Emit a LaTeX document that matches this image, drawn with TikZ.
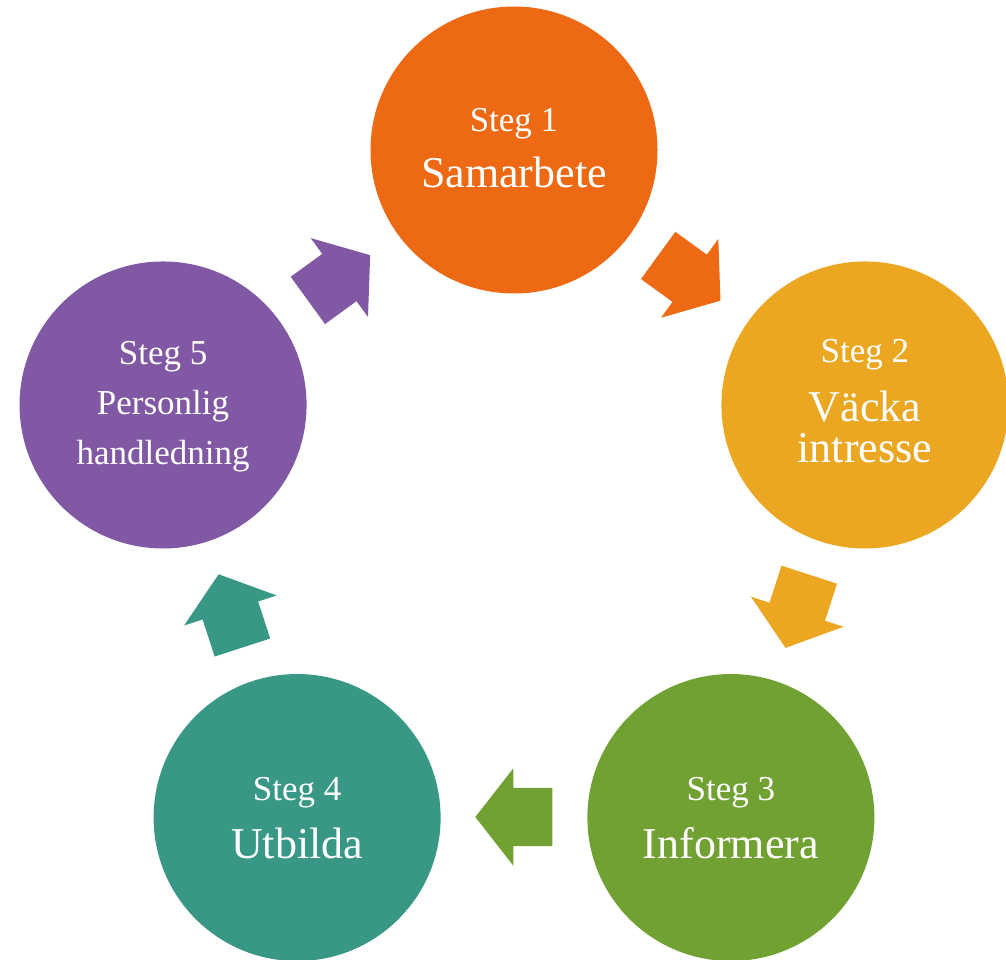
\documentclass[tikz,border=0pt]{standalone}
\usepackage{fontspec}
\setmainfont{Liberation Serif}
\usetikzlibrary{shapes.arrows,calc}
\definecolor{cOrange}{HTML}{EE6914}
\definecolor{cYellow}{HTML}{EBA722}
\definecolor{cGreen}{HTML}{71A132}
\definecolor{cTeal}{HTML}{389885}
\definecolor{cPurple}{HTML}{8058A4}
\begin{document}
\begin{tikzpicture}[x=1pt,y=1pt,
  stepcircle/.style={circle, minimum size=287pt, inner sep=0pt, draw=none, fill=#1},
  cyclearrow/.style={single arrow, draw=none, fill=#1, minimum height=77pt,
    inner xsep=0pt, inner ysep=29pt, text height=0pt, text depth=0pt,
    single arrow head extend=19.5pt, single arrow tip angle=104},
  smalltext/.style={text=white, font=\fontsize{35}{42}\selectfont, anchor=base, inner sep=0pt},
  bigtext/.style={text=white, font=\fontsize{44}{52}\selectfont, anchor=base, inner sep=0pt}]
\useasboundingbox (0,0) rectangle (1006,-960);
\coordinate (ctr) at (514,-519);
% circles
\node[stepcircle=cOrange] (c1) at ($(ctr)+(90:369)$) {};
\node[stepcircle=cYellow] (c2) at ($(ctr)+(18:369)$) {};
\node[stepcircle=cGreen]  (c3) at ($(ctr)+(-54:369)$) {};
\node[stepcircle=cTeal]   (c4) at ($(ctr)+(-126:369)$) {};
\node[stepcircle=cPurple] (c5) at ($(ctr)+(162:369)$) {};
% texts
\node[smalltext] (s1) at ($(c1)+(0,18)$) {Steg 1};
\node[bigtext]   (m1) at ($(c1)+(0,-38)$) {Samarbete};
\node[smalltext] (s2) at ($(c2)+(0,42.5)$) {Steg 2};
\node[bigtext]   (m2a) at ($(c2)+(0,-16.5)$) {Väcka};
\node[bigtext]   (m2b) at ($(c2)+(0,-57.5)$) {intresse};
\node[smalltext] (s3) at ($(c3)+(0,17.5)$) {Steg 3};
\node[bigtext]   (m3) at ($(c3)+(0,-40.5)$) {Informera};
\node[smalltext] (s4) at ($(c4)+(0,17.5)$) {Steg 4};
\node[bigtext]   (m4) at ($(c4)+(0,-40.5)$) {Utbilda};
\node[smalltext] (s5) at ($(c5)+(0,40)$) {Steg 5};
\node[smalltext] (m5a) at ($(c5)+(0,-10)$) {Personlig};
\node[smalltext] (m5b) at ($(c5)+(0,-60)$) {handledning};
% arrows
\node[cyclearrow=cOrange, rotate=-36,  anchor=tail] (a12) at ($(ctr)+(54:298)+(144:38.5)$) {};
\node[cyclearrow=cYellow, rotate=-108, anchor=tail] (a23) at ($(ctr)+(-18:298)+(72:38.5)$) {};
\node[cyclearrow=cGreen,  rotate=-180, anchor=tail] (a34) at ($(ctr)+(-90:298)+(0:38.5)$) {};
\node[cyclearrow=cTeal,   rotate=108,  anchor=tail] (a45) at ($(ctr)+(-162:298)+(-72:38.5)$) {};
\node[cyclearrow=cPurple, rotate=36,   anchor=tail] (a51) at ($(ctr)+(126:298)+(-144:38.5)$) {};
\end{tikzpicture}
\end{document}
